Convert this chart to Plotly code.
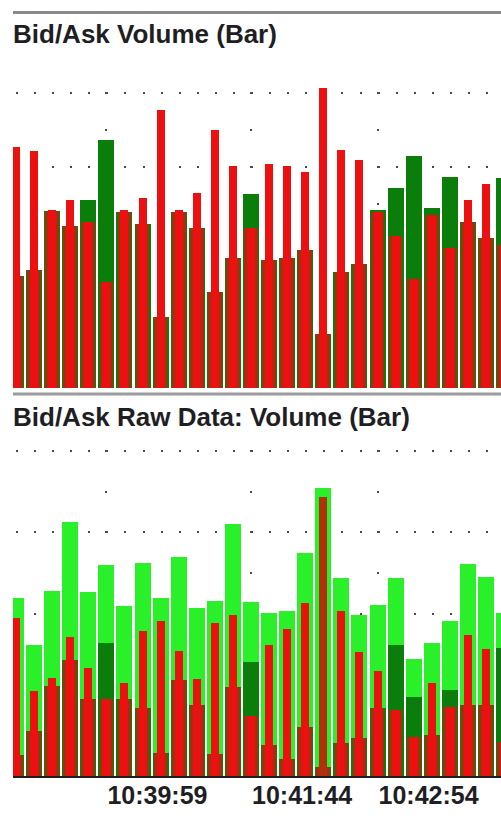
import numpy as np
import plotly.graph_objects as go

# ---- bar slots and time labels -------------------------------------------
bar_index = list(range(28))
tick_positions = [5, 13, 20]
tick_labels = ["10:39:59", "10:41:44", "10:42:54"]

# ---- Bid/Ask Volume (Bar) --------------------------------------------------
ask_volume = [151.8, 159.9, 240.0, 219.5, 254.7, 336.0, 239.0, 222.2, 96.2, 239.0,
              216.8, 130.1, 176.2, 262.9, 173.4, 176.2, 187.0, 73.2, 157.2, 168.0,
              241.2, 271.0, 314.4, 243.9, 285.9, 224.9, 203.3, 284.6]
bid_volume = [326.6, 321.1, 241.2, 254.7, 224.9, 143.6, 241.0, 257.5, 376.7, 241.0,
              264.2, 349.6, 300.8, 216.8, 303.5, 300.8, 292.7, 406.5, 322.5, 308.9,
              238.5, 206.0, 147.7, 234.4, 189.7, 254.7, 276.4, 193.8]

# ---- Bid/Ask Raw Data: Volume (Bar) ---------------------------------------
raw_total = [219.1, 161.2, 227.7, 312.6, 226.5, 259.7, 209.2, 262.2, 219.1, 269.5,
             206.8, 215.4, 310.2, 214.2, 200.6, 203.1, 274.5, 354.5, 243.7, 198.2,
             210.5, 243.7, 144.0, 163.7, 190.8, 260.9, 244.9, 200.6]
raw_ask = [25.8, 55.4, 110.8, 142.8, 94.8, 163.7, 94.8, 83.7, 28.3, 118.2,
           87.4, 27.1, 109.5, 140.3, 38.2, 20.9, 60.3, 11.1, 40.6, 46.8,
           83.7, 161.2, 97.2, 50.5, 105.8, 87.4, 87.4, 157.5]
raw_bid = [194.5, 104.6, 120.6, 171.1, 132.9, 94.8, 114.5, 178.5, 190.8, 153.8,
           119.4, 188.3, 198.2, 73.8, 161.2, 180.9, 212.9, 343.4, 203.1, 152.6,
           129.2, 81.2, 48.0, 114.5, 84.9, 173.5, 156.3, 41.8]

# ---- styling ---------------------------------------------------------------
W, H = 501, 840
GREEN_DARK = "#0a7d0a"
GREEN_LIGHT = "#2af02a"
RED_OVERLAP = "#a0300f"
RED_BRIGHT = "#ec1010"
GRID = "#4a4a4a"
TEXT = "#1e1e24"
FONT = "Liberation Sans, Arial, sans-serif"

WIDE, MID, NARROW = 0.885, 0.76, 0.44

# pixel geometry of the two panes
LEFT_PX = 13
TOP1_PX, BOT1_PX = 60, 388
TOP2_PX, BOT2_PX = 440, 776
X_RANGE = [-0.166, 26.83]


def ydom(top_px, bot_px):
    return [1 - bot_px / H, 1 - top_px / H]


overlap_top = np.minimum(ask_volume, bid_volume)
overlap_raw = np.minimum(raw_ask, raw_bid)

narrow_raw_colors = [RED_BRIGHT] * len(bar_index)
narrow_raw_colors[17] = "#b3300f"

fig = go.Figure()

def add_bar(y, width, color, xa, ya):
    fig.add_trace(go.Bar(
        x=bar_index, y=y, width=width,
        marker=dict(color=color, line=dict(width=0)),
        xaxis=xa, yaxis=ya, hoverinfo="skip", showlegend=False,
    ))

# upper pane
add_bar(ask_volume, WIDE, GREEN_DARK, "x", "y")
add_bar(overlap_top, MID, RED_OVERLAP, "x", "y")
add_bar(bid_volume, NARROW, RED_BRIGHT, "x", "y")

# lower pane
add_bar(raw_total, WIDE, GREEN_LIGHT, "x2", "y2")
add_bar(raw_ask, WIDE, GREEN_DARK, "x2", "y2")
add_bar(overlap_raw, MID, RED_OVERLAP, "x2", "y2")
add_bar(raw_bid, NARROW, narrow_raw_colors, "x2", "y2")

# dotted grids: one dot per bar slot horizontally, two per grid step vertically
h_dash = "0px,3px,2px,13.08px"
v_dash_top = "0px,32px,2px,2.9px"
v_dash_bot = "0px,10px,2px,28.625px"

common_x = dict(range=X_RANGE, domain=[LEFT_PX / W, 1], tickvals=tick_positions,
                showgrid=True, gridcolor=GRID, gridwidth=2, zeroline=False,
                ticks="", fixedrange=True)
common_y = dict(tickvals=[100, 200, 300, 400], showticklabels=False, showgrid=True,
                gridcolor=GRID, gridwidth=2, griddash=h_dash, zeroline=False,
                ticks="", fixedrange=True)

fig.update_layout(
    width=W, height=H,
    margin=dict(l=0, r=0, t=0, b=0),
    paper_bgcolor="white", plot_bgcolor="white",
    barmode="overlay", bargap=0,
    showlegend=False,
    xaxis=dict(anchor="y", showticklabels=False, griddash=v_dash_top, **common_x),
    yaxis=dict(anchor="x", domain=ydom(TOP1_PX, BOT1_PX),
               range=[0, (BOT1_PX - TOP1_PX) / 0.738], **common_y),
    xaxis2=dict(anchor="y2", ticktext=tick_labels, griddash=v_dash_bot,
                ticklabelposition="outside right", ticklabelstandoff=-4,
                tickfont=dict(family=FONT, size=25, color=TEXT, weight="bold"),
                showline=True, linecolor="#1e1e1e", linewidth=2, layer="below traces",
                **common_x),
    yaxis2=dict(anchor="x2", domain=ydom(TOP2_PX, BOT2_PX),
                range=[0, (BOT2_PX - TOP2_PX) / 0.8125], **common_y),
)

# pane titles
for text, y_px in [("Bid/Ask Volume (Bar)", 34), ("Bid/Ask Raw Data: Volume (Bar)", 417)]:
    fig.add_annotation(text=text, xref="paper", yref="paper",
                       x=11 / W, y=1 - y_px / H, xanchor="left", yanchor="middle",
                       showarrow=False,
                       font=dict(family=FONT, size=26, color=TEXT, weight="bold"))

# pane separator lines
for y_px, color in [(12.5, "#8a8a8a"), (394, "#9b9b9b")]:
    fig.add_shape(type="line", xref="paper", yref="paper",
                  x0=LEFT_PX / W, x1=1, y0=1 - y_px / H, y1=1 - y_px / H,
                  line=dict(color=color, width=3))

fig.write_html("out.html")
